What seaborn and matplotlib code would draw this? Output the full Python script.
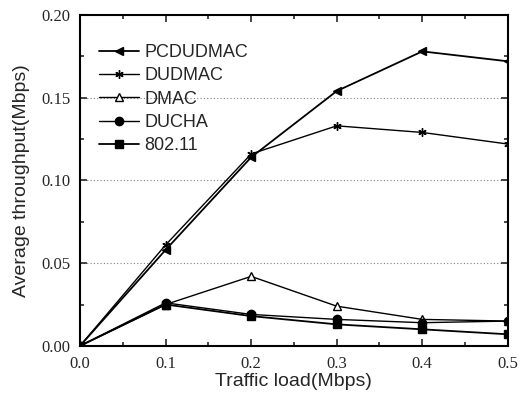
import pandas as pd
import matplotlib
matplotlib.use("Agg")
import matplotlib.pyplot as plt
import seaborn as sns
from matplotlib.ticker import MultipleLocator

load = [0.0, 0.1, 0.2, 0.3, 0.4, 0.5]
pcdudmac = [0.0, 0.058, 0.114, 0.154, 0.178, 0.172]
dudmac = [0.0, 0.061, 0.116, 0.133, 0.129, 0.122]
dmac = [0.0, 0.025, 0.042, 0.024, 0.016, 0.015]
ducha = [0.0, 0.026, 0.019, 0.016, 0.014, 0.015]
ieee = [0.0, 0.025, 0.018, 0.013, 0.010, 0.007]

names = ["PCDUDMAC", "DUDMAC", "DMAC", "DUCHA", "802.11"]
series = [pcdudmac, dudmac, dmac, ducha, ieee]
markers = ["<", (6, 2, 0), "^", "o", "s"]
fills = ["black", "black", "white", "black", "black"]
widths = [1.3, 1.0, 1.0, 1.0, 1.3]

df = pd.DataFrame({"load": load * len(names),
                   "throughput": sum(series, []),
                   "scheme": [n for n in names for _ in load]})

sns.set_style("ticks")
plt.rcParams["font.family"] = ["Liberation Sans", "DejaVu Sans"]

fig = plt.figure(figsize=(5.23, 4.05), dpi=100)
ax = fig.add_axes([0.153, 0.146, 0.818, 0.817])

for name, mk, fc, lw in zip(names, markers, fills, widths):
    sub = df[df["scheme"] == name]
    sns.lineplot(data=sub, x="load", y="throughput", ax=ax, color="black",
                 linewidth=lw, marker=mk, markersize=6, markerfacecolor=fc,
                 markeredgecolor="black", markeredgewidth=1.0, label=name)

ax.set_xlim(0, 0.5)
ax.set_ylim(0, 0.20)
ax.xaxis.set_major_locator(MultipleLocator(0.1))
ax.xaxis.set_minor_locator(MultipleLocator(0.05))
ax.yaxis.set_major_locator(MultipleLocator(0.05))
ax.yaxis.set_minor_locator(MultipleLocator(0.025))
ax.xaxis.set_major_formatter(plt.FuncFormatter(lambda v, p: f"{v:.1f}"))
ax.yaxis.set_major_formatter(plt.FuncFormatter(lambda v, p: f"{v:.2f}"))
ax.tick_params(which="both", direction="in", top=True, right=True, width=1.2)
ax.tick_params(which="major", length=5)
ax.tick_params(which="minor", length=3)
ax.tick_params(axis="y", which="major", pad=7)
ax.tick_params(axis="x", which="major", pad=7)
for lab in ax.get_xticklabels() + ax.get_yticklabels():
    lab.set_family("Liberation Serif")
    lab.set_fontsize(12)
for s in ax.spines.values():
    s.set_linewidth(1.5)
    s.set_color("black")

for yv in [0.05, 0.10, 0.15]:
    ax.axhline(yv, color="gray", linestyle=(0, (1, 2)), linewidth=0.8, zorder=0)

ax.set_xlabel("Traffic load(Mbps)", fontsize=14, labelpad=1)
ax.set_ylabel("Average throughput(Mbps)", fontsize=14, labelpad=8)

ax.legend(loc="upper left", bbox_to_anchor=(0.02, 0.945), frameon=False,
          fontsize=13, handlelength=2.2, labelspacing=0.35, handletextpad=0.3,
          borderaxespad=0.2)

fig.savefig("out.png", dpi=100)
